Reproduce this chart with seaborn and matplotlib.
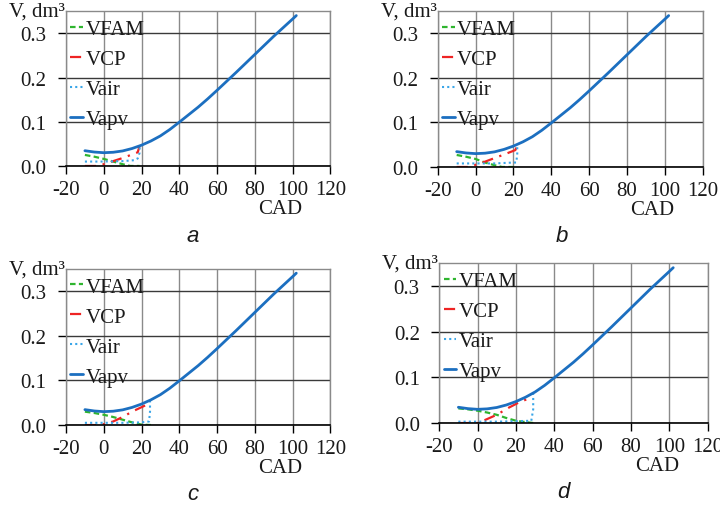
import numpy as np
import pandas as pd
import matplotlib
matplotlib.use('Agg')
import matplotlib.pyplot as plt
import seaborn as sns

# Vapv curve (same for all four cases)
apv_x = [-10, -5, 0, 5, 10, 15, 20, 25, 30, 35, 40, 45, 50, 55, 60, 65, 70,
         75, 80, 85, 90, 95, 100, 102]
apv_y = [0.0345, 0.0315, 0.0300, 0.0310, 0.0340, 0.0395, 0.0470, 0.0565,
         0.0680, 0.0825, 0.0990, 0.1160, 0.1330, 0.1515, 0.1710, 0.1910,
         0.2110, 0.2315, 0.2520, 0.2725, 0.2930, 0.3125, 0.3320, 0.3400]

# case a
fam_x_a = [-10, -5, 0, 5, 10, 14, 19]
fam_y_a = [0.025, 0.021, 0.016, 0.010, 0.004, 0.0, 0.0]
cp_x_a = [-10, -4, 0, 5, 10, 15, 18, 19]
cp_y_a = [0.0, 0.0, 0.004, 0.011, 0.018, 0.026, 0.031, 0.046]
air_x_a = [-10, 0, 10, 16, 18, 19, 19]
air_y_a = [0.010, 0.010, 0.011, 0.013, 0.017, 0.030, 0.046]

# case b
fam_x_b = [-10, -5, 0, 5, 10, 14, 22]
fam_y_b = [0.027, 0.023, 0.018, 0.010, 0.004, 0.0, 0.0]
cp_x_b = [-10, -3, 0, 5, 10, 15, 21, 22]
cp_y_b = [0.0, 0.0, 0.005, 0.012, 0.020, 0.028, 0.038, 0.048]
air_x_b = [-10, 0, 10, 20, 21.5, 22, 22]
air_y_b = [0.008, 0.008, 0.008, 0.010, 0.010, 0.030, 0.049]

# case c
fam_x_c = [-10, -5, 0, 5, 10, 15, 20, 25]
fam_y_c = [0.030, 0.027, 0.023, 0.018, 0.012, 0.006, 0.001, 0.0]
cp_x_c = [-10, -3, 0, 5, 10, 15, 20, 23]
cp_y_c = [0.0, 0.0, 0.002, 0.008, 0.018, 0.030, 0.040, 0.046]
air_x_c = [-10, 0, 10, 20, 24, 24.5, 24.5]
air_y_c = [0.005, 0.005, 0.005, 0.006, 0.008, 0.030, 0.056]

# case d
fam_x_d = [-10, -5, 0, 5, 10, 15, 20, 25, 29]
fam_y_d = [0.032, 0.030, 0.027, 0.023, 0.018, 0.011, 0.005, 0.002, 0.0]
cp_x_d = [-10, -3, 0, 3, 10, 16, 22, 27]
cp_y_d = [0.0, 0.0, 0.0, 0.005, 0.018, 0.033, 0.046, 0.054]
air_x_d = [-10, 0, 10, 20, 28, 29, 29]
air_y_d = [0.003, 0.003, 0.003, 0.004, 0.005, 0.030, 0.064]

cases = {
    'a': (fam_x_a, fam_y_a, cp_x_a, cp_y_a, air_x_a, air_y_a),
    'b': (fam_x_b, fam_y_b, cp_x_b, cp_y_b, air_x_b, air_y_b),
    'c': (fam_x_c, fam_y_c, cp_x_c, cp_y_c, air_x_c, air_y_c),
    'd': (fam_x_d, fam_y_d, cp_x_d, cp_y_d, air_x_d, air_y_d),
}

x_ticks = [-20, 0, 20, 40, 60, 80, 100, 120]
y_ticks = [0.0, 0.1, 0.2, 0.3]

sns.set_theme(style='white')
plt.rcParams['font.family'] = ['Liberation Serif', 'DejaVu Serif']
plt.rcParams['axes.unicode_minus'] = False

fig = plt.figure(figsize=(7.2, 5.06), dpi=100)

# axes rectangles [left, bottom, width, height] and panel letter positions
rects = {
    'a': [0.0917, 0.670, 0.367, 0.306],
    'b': [0.608, 0.668, 0.368, 0.308],
    'c': [0.0917, 0.158, 0.367, 0.309],
    'd': [0.610, 0.162, 0.373, 0.316],
}
letter_pos = {'a': (0.267, 0.532), 'b': (0.781, 0.532),
              'c': (0.268, 0.022), 'd': (0.782, 0.026)}

green = '#2fb52f'
red = '#ee2424'
light = '#3aa6e8'
blue = '#1c6fc0'
fs = 15

for key, (fx, fy, cx, cy, ax_x, ax_y) in cases.items():
    ax = fig.add_axes(rects[key])
    sns.lineplot(x=fx, y=fy, ax=ax, color=green, lw=1.6, sort=False,
                 estimator=None, label='VFAM')
    ax.lines[-1].set_dashes((2.5, 1.5))
    sns.lineplot(x=cx, y=cy, ax=ax, color=red, lw=1.6, sort=False,
                 estimator=None, label='VCP')
    ax.lines[-1].set_dashes((5, 3, 1, 3))
    sns.lineplot(x=ax_x, y=ax_y, ax=ax, color=light, lw=1.5, sort=False,
                 estimator=None, label='Vair')
    ax.lines[-1].set_dashes((1, 1.5))
    sns.lineplot(x=apv_x, y=apv_y, ax=ax, color=blue, lw=2.0, sort=False,
                 estimator=None, label='Vapv')

    ax.set_xlim(-20, 120)
    ax.set_ylim(0, 0.35)
    ax.set_xticks(x_ticks)
    ax.set_yticks(y_ticks)
    ax.set_yticklabels([f'{v:.1f}' for v in y_ticks])
    ax.grid(axis='x', color='#8a8a8a', lw=1.0)
    ax.grid(axis='y', color='#3a3a3a', lw=1.0)
    ax.set_axisbelow(True)
    for side in ['left', 'top', 'right']:
        ax.spines[side].set_color('#8a8a8a')
        ax.spines[side].set_linewidth(1.0)
    ax.spines['bottom'].set_color('black')
    ax.spines['bottom'].set_linewidth(1.2)
    ax.tick_params(axis='both', which='major', labelsize=fs, direction='out',
                   length=6, width=1.0, color='black', bottom=True,
                   left=True, labelcolor='#1a1a1a')
    ax.tick_params(axis='x', pad=4)
    ax.tick_params(axis='y', pad=8)
    ax.set_xlabel('CAD', fontsize=fs, x=0.81, labelpad=0, color='#1a1a1a')
    ax.set_ylabel('')
    ax.text(-0.005, 1.0, 'V, dm³', transform=ax.transAxes, ha='right',
            va='center', fontsize=fs, color='#1a1a1a')

    leg = ax.legend(loc='upper left', bbox_to_anchor=(-0.015, 1.0),
                    frameon=False, fontsize=fs, handlelength=0.62,
                    handletextpad=0.1, labelspacing=0.5, borderaxespad=0.3,
                    borderpad=0.1)
    for t in leg.get_texts():
        t.set_color('#1a1a1a')

    fig.text(letter_pos[key][0], letter_pos[key][1], key, fontsize=16,
             style='italic', family=['Liberation Sans', 'DejaVu Sans'],
             ha='center', va='center', color='#1a1a1a')

fig.savefig('out.png', dpi=100)
